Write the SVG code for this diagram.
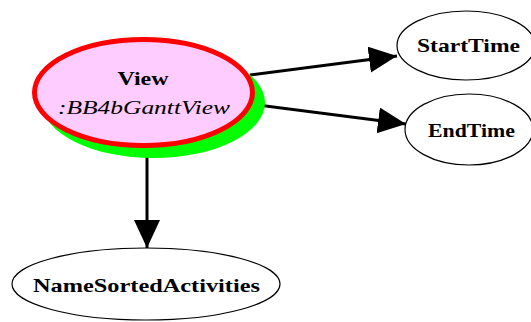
<svg xmlns="http://www.w3.org/2000/svg" width="531" height="322" viewBox="0 0 531 322">
<style>
.lbl{font-family:"Liberation Serif",serif;font-weight:bold;font-size:19px;fill:#000;text-anchor:middle}
.ital{font-family:"Liberation Serif",serif;font-style:italic;font-size:19px;fill:#000;text-anchor:middle}
.plain{fill:#fff;stroke:#000;stroke-width:1.2}
.edge{stroke:#000;stroke-width:3;fill:none}
</style>
<defs>
<marker id="ah" markerUnits="userSpaceOnUse" markerWidth="30" markerHeight="28" refX="28" refY="13" orient="auto" viewBox="0 0 30 28">
<path d="M0,0 L28,13 L0,26 Z" fill="#000"/>
</marker>
</defs>
<rect width="531" height="322" fill="#fff"/>
<g id="connectors">
<line class="edge" x1="250" y1="75" x2="397" y2="56" marker-end="url(#ah)"/>
<line class="edge" x1="250" y1="104" x2="406" y2="124" marker-end="url(#ah)"/>
<line class="edge" x1="147" y1="148" x2="147" y2="248" marker-end="url(#ah)"/>
</g>
<g id="View">
<ellipse cx="153.5" cy="102.5" rx="111.5" ry="55.5" fill="#00ff00"/>
<ellipse cx="143.5" cy="92.5" rx="109" ry="53" fill="#ffccff" stroke="#ff0000" stroke-width="5"/>
<text class="lbl" x="143" y="85" textLength="51" lengthAdjust="spacingAndGlyphs">View</text>
<text class="ital" x="144" y="114" textLength="172" lengthAdjust="spacingAndGlyphs">:BB4bGanttView</text>
</g>
<g id="StartTime">
<ellipse class="plain" cx="466" cy="45.5" rx="69" ry="34.5"/>
<text class="lbl" x="468.5" y="52" textLength="103" lengthAdjust="spacingAndGlyphs">StartTime</text>
</g>
<g id="EndTime">
<ellipse class="plain" cx="469" cy="129.5" rx="64" ry="35.5"/>
<text class="lbl" x="471.5" y="137" textLength="87" lengthAdjust="spacingAndGlyphs">EndTime</text>
</g>
<g id="NameSortedActivities">
<ellipse class="plain" cx="146" cy="284" rx="134" ry="36"/>
<text class="lbl" x="146.5" y="292" textLength="227" lengthAdjust="spacingAndGlyphs">NameSortedActivities</text>
</g>
</svg>
